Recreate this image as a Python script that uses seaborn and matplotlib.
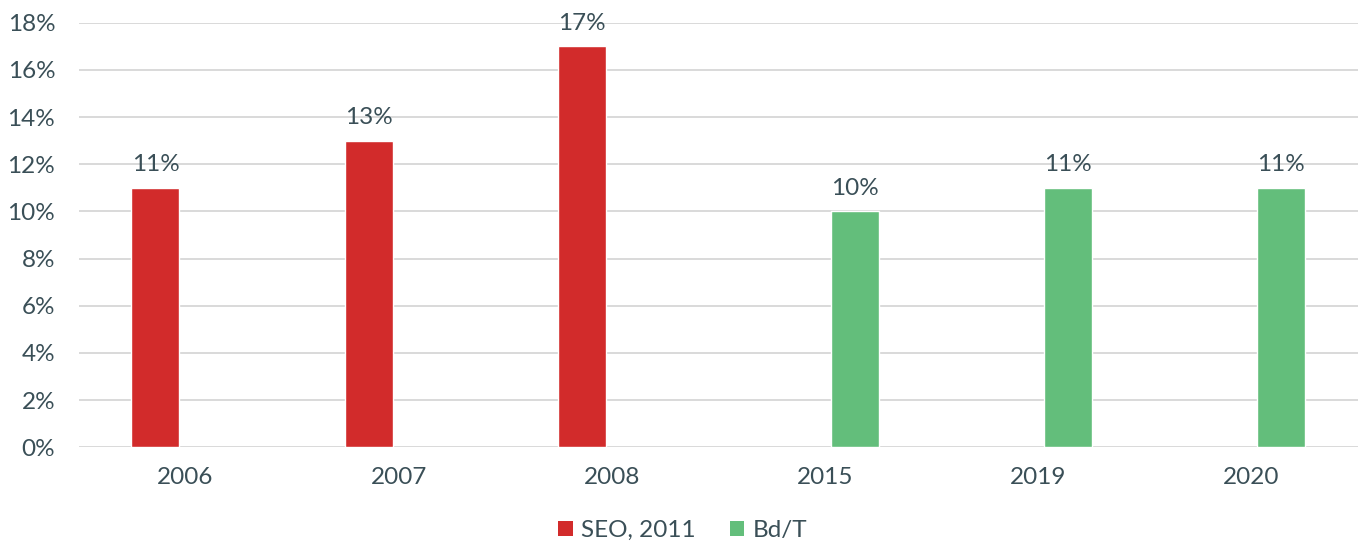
import matplotlib
matplotlib.use("Agg")
import matplotlib.pyplot as plt
import seaborn as sns
import pandas as pd
from matplotlib.ticker import FuncFormatter, MultipleLocator
from matplotlib.patches import Patch

# Data
years = ["2006", "2007", "2008", "2015", "2019", "2020"]
sources = ["SEO, 2011", "SEO, 2011", "SEO, 2011", "Bd/T", "Bd/T", "Bd/T"]
values = [11, 13, 17, 10, 11, 11]
series_order = ["SEO, 2011", "Bd/T"]
colors = ["#D22B2B", "#63BE7B"]

df = pd.DataFrame({"year": years, "source": sources, "value": values})

sns.set_theme(style="white")
plt.rcParams["font.family"] = ["Lato", "DejaVu Sans"]
text_color = "#3A4F57"
fs = 17.5

fig = plt.figure(figsize=(13.6, 5.44), dpi=100)
ax = fig.add_axes([0.058, 0.178, 0.9405, 0.78])

sns.barplot(data=df, x="year", y="value", hue="source", hue_order=series_order,
            order=years, palette=colors, width=0.563, gap=0.2, dodge=True,
            saturation=1, ax=ax, legend=False, zorder=3)

for cont in ax.containers:
    ax.bar_label(cont, fmt="%d%%", padding=9, fontsize=fs, color=text_color)

ax.set_ylim(0, 18)
ax.set_xlim(-0.5, len(years) - 0.5)
ax.yaxis.set_major_locator(MultipleLocator(2))
ax.yaxis.set_major_formatter(FuncFormatter(lambda v, p: f"{int(v)}%"))
ax.grid(axis="y", color="#D9D9D9", linewidth=1.4, zorder=0)
ax.set_axisbelow(True)
for s in ax.spines.values():
    s.set_visible(False)
ax.set_xlabel("")
ax.set_ylabel("")
ax.tick_params(axis="y", length=0, pad=17, labelsize=fs, labelcolor=text_color)
ax.tick_params(axis="x", length=0, pad=14, labelsize=fs, labelcolor=text_color)

handles = [Patch(facecolor=c, edgecolor="none") for c in colors]
fig.legend(handles, series_order, loc="lower center", bbox_to_anchor=(0.502, -0.035),
           ncol=2, frameon=False, fontsize=fs, labelcolor=text_color,
           handlelength=0.6, handleheight=0.6, handletextpad=0.35, columnspacing=1.4)

fig.savefig("out.png", dpi=100)
